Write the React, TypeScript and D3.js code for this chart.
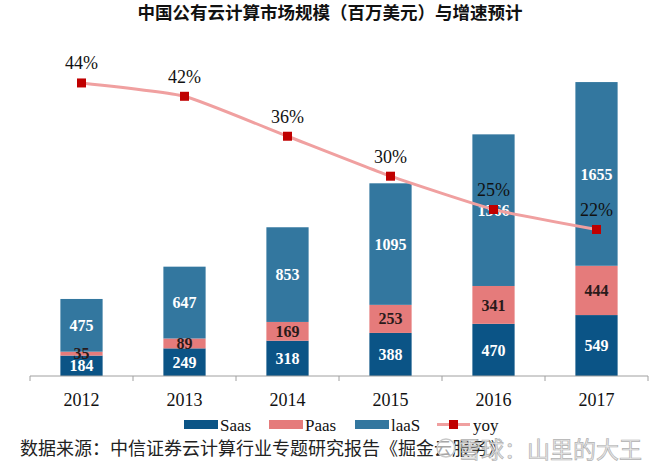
import React from "react";
import * as d3 from "d3";

const years = ["2012", "2013", "2014", "2015", "2016", "2017"];
const saas = [184, 249, 318, 388, 470, 549];
const paas = [35, 89, 169, 253, 341, 444];
const iaas = [475, 647, 853, 1095, 1366, 1655];
const yoy = [0.44, 0.42, 0.36, 0.30, 0.25, 0.22];
const yoyLabels = ["44%", "42%", "36%", "30%", "25%", "22%"];
const seriesNames = ["Saas", "Paas", "laaS"];
const title = "中国公有云计算市场规模（百万美元）与增速预计";
const source = "数据来源：中信证券云计算行业专题研究报告《掘金云服务》";
const watermark = "雪球：山里的大王";

const W = 660;
const H = 469;
const colors = ["#0b5486", "#e57b7b", "#33779f"];
const serif = "Liberation Serif, DejaVu Serif, serif";
const cjk = "Noto Sans CJK SC, sans-serif";

export default function App() {
  const x = d3.scaleBand<string>().domain(years).range([30, 648]).paddingInner(0.59).paddingOuter(0.295);
  const y = d3.scaleLinear().domain([0, 3000]).range([376, 43]);
  const y2 = d3.scaleLinear().domain([0, 0.5]).range([376, 43]);

  const rows = years.map((yr, i) => ({ yr, vals: [saas[i], paas[i], iaas[i]] }));
  const stack = d3.stack<any>().keys(["0", "1", "2"]).value((d: any, k: string) => d.vals[+k]);
  const stacked = stack(rows as any);

  const cx = (yr: string) => (x(yr) as number) + x.bandwidth() / 2;
  const line = d3
    .line<number>()
    .x((_, i) => cx(years[i]))
    .y((d) => y2(d))
    .curve(d3.curveCardinal.tension(0.55));

  const step = (648 - 30) / years.length;
  const tickXs = d3.range(years.length + 1).map((i) => 30 + i * step);

  const legendItems = [
    { x: 184, label: seriesNames[0], color: colors[0] },
    { x: 269, label: seriesNames[1], color: colors[1] },
    { x: 355, label: seriesNames[2], color: colors[2] },
  ];

  return (
    <svg width={W} height={H} style={{ position: "absolute", left: 0, top: 0, background: "#fff" }}>
      <text x={330} y={19} textAnchor="middle" fontFamily={cjk} fontWeight="bold" fontSize={17.5} fill="#111">
        {title}
      </text>

      {stacked.map((layer, si) =>
        layer.map((d, i) => (
          <rect
            key={`r${si}-${i}`}
            x={x(years[i])}
            y={y(d[1])}
            width={x.bandwidth()}
            height={y(d[0]) - y(d[1])}
            fill={colors[si]}
          />
        ))
      )}
      {stacked.map((layer, si) =>
        layer.map((d, i) => (
          <text
            key={`t${si}-${i}`}
            x={cx(years[i])}
            y={(y(d[0]) + y(d[1])) / 2}
            dy="0.35em"
            textAnchor="middle"
            fontFamily={serif}
            fontWeight="bold"
            fontSize={16}
            fill={si === 1 ? "#2a1a1a" : "#ffffff"}
          >
            {rows[i].vals[si]}
          </text>
        ))
      )}

      <line x1={30} x2={648} y1={376} y2={376} stroke="#a0a0a0" strokeWidth={1} />
      {tickXs.map((tx, i) => (
        <line key={`k${i}`} x1={tx} x2={tx} y1={376} y2={381} stroke="#a0a0a0" strokeWidth={1} />
      ))}
      {years.map((yr) => (
        <text key={`x${yr}`} x={cx(yr)} y={406} textAnchor="middle" fontFamily={serif} fontSize={18} fill="#111">
          {yr}
        </text>
      ))}

      <path d={line(yoy) as string} fill="none" stroke="#f0a0a0" strokeWidth={3} />
      {yoy.map((v, i) => (
        <rect key={`m${i}`} x={cx(years[i]) - 4.5} y={y2(v) - 4.5} width={9} height={9} fill="#c00000" />
      ))}
      {yoy.map((v, i) => (
        <text
          key={`l${i}`}
          x={cx(years[i])}
          y={y2(v) - 20}
          dy="0.35em"
          textAnchor="middle"
          fontFamily={serif}
          fontSize={18}
          fill="#111"
        >
          {yoyLabels[i]}
        </text>
      ))}

      {legendItems.map((it) => (
        <g key={it.label}>
          <rect x={it.x} y={420} width={34} height={9} fill={it.color} />
          <text x={it.x + 36} y={431} fontFamily={serif} fontSize={17} fill="#111">
            {it.label}
          </text>
        </g>
      ))}
      <line x1={437} x2={470} y1={424.5} y2={424.5} stroke="#f0a0a0" strokeWidth={3} />
      <rect x={449} y={420} width={9} height={9} fill="#c00000" />
      <text x={473} y={431} fontFamily={serif} fontSize={17} fill="#111">
        yoy
      </text>

      <text x={20} y={455} fontFamily={cjk} fontSize={18} fill="#222">
        {source}
      </text>
      <circle cx={446} cy={448} r={9} fill="#ffffff" fillOpacity={0.6} stroke="#c8c8c8" strokeWidth={1.5} />
      <text x={458} y={458} fontFamily={cjk} fontSize={23} fill="#e6e6e6" stroke="#a9a9a9" strokeWidth={0.7} opacity={0.9}>
        {watermark}
      </text>
    </svg>
  );
}
